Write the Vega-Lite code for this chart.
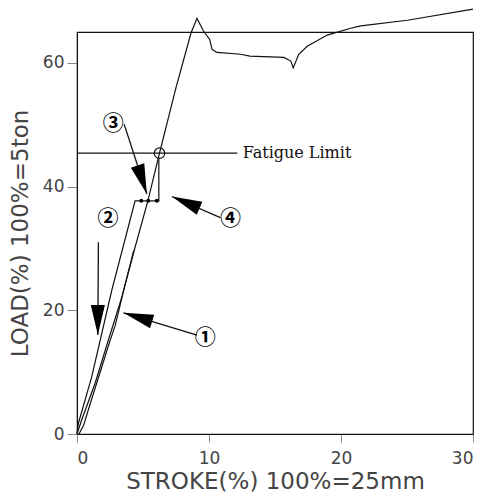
{
  "$schema": "https://vega.github.io/schema/vega-lite/v6.json",
  "autosize": "none",
  "padding": {"left": 77, "top": 32, "right": 10, "bottom": 70},
  "width": 396,
  "height": 402,
  "background": "white",
  "config": {
    "view": {"stroke": "#111", "strokeWidth": 1.2},
    "axis": {
      "grid": false,
      "domainColor": "#111",
      "labelColor": "#444",
      "titleColor": "#444",
      "labelFont": "DejaVu Sans",
      "titleFont": "DejaVu Sans",
      "titleFontWeight": "normal",
      "labelFontSize": 17,
      "titleFontSize": 23
    }
  },
  "datasets": {
    "curves": [
      {"s": "a", "o": 0, "x": 0, "y": 0},
      {"s": "a", "o": 1, "x": 0.1, "y": 1.7},
      {"s": "a", "o": 2, "x": 1.11, "y": 9.2},
      {"s": "a", "o": 3, "x": 2.63, "y": 23.2},
      {"s": "a", "o": 4, "x": 4.4, "y": 37.7},
      {"s": "a", "o": 5, "x": 6.2, "y": 37.7},
      {"s": "a", "o": 6, "x": 6.2, "y": 44.6},
      {"s": "b", "o": 0, "x": 0, "y": 0},
      {"s": "b", "o": 1, "x": 0.36, "y": 2.3},
      {"s": "b", "o": 2, "x": 1.37, "y": 8.2},
      {"s": "b", "o": 3, "x": 2.38, "y": 15.2},
      {"s": "b", "o": 4, "x": 3.39, "y": 22.1},
      {"s": "b", "o": 5, "x": 4.4, "y": 30.2},
      {"s": "b", "o": 6, "x": 5.37, "y": 37.7},
      {"s": "b", "o": 7, "x": 6.25, "y": 45.4},
      {"s": "b", "o": 8, "x": 7.5, "y": 56.0},
      {"s": "b", "o": 9, "x": 8.63, "y": 64.8},
      {"s": "b", "o": 10, "x": 9.09, "y": 67.2},
      {"s": "b", "o": 11, "x": 9.57, "y": 65.2},
      {"s": "b", "o": 12, "x": 10.05, "y": 63.8},
      {"s": "b", "o": 13, "x": 10.23, "y": 62.2},
      {"s": "b", "o": 14, "x": 10.6, "y": 61.7},
      {"s": "b", "o": 15, "x": 12.4, "y": 61.4},
      {"s": "b", "o": 16, "x": 13.1, "y": 61.1},
      {"s": "b", "o": 17, "x": 15.67, "y": 60.9},
      {"s": "b", "o": 18, "x": 16.2, "y": 60.3},
      {"s": "b", "o": 19, "x": 16.38, "y": 59.2},
      {"s": "b", "o": 20, "x": 16.8, "y": 61.4},
      {"s": "b", "o": 21, "x": 17.44, "y": 62.7},
      {"s": "b", "o": 22, "x": 18.96, "y": 64.5},
      {"s": "b", "o": 23, "x": 20.73, "y": 65.6},
      {"s": "b", "o": 24, "x": 21.5, "y": 66.0},
      {"s": "b", "o": 25, "x": 25.03, "y": 66.9},
      {"s": "b", "o": 26, "x": 30, "y": 68.7},
      {"s": "c", "o": 0, "x": 0.15, "y": 0},
      {"s": "c", "o": 1, "x": 0.5, "y": 1.4},
      {"s": "c", "o": 2, "x": 0.9, "y": 4.2},
      {"s": "c", "o": 3, "x": 1.4, "y": 7.6},
      {"s": "c", "o": 4, "x": 1.9, "y": 11.0},
      {"s": "c", "o": 5, "x": 2.4, "y": 14.4},
      {"s": "c", "o": 6, "x": 2.9, "y": 17.6},
      {"s": "c", "o": 7, "x": 3.6, "y": 23.8},
      {"s": "c", "o": 8, "x": 4.3, "y": 29.7}
    ],
    "arrows": [
      {"id": "1", "x": 9.09, "y": 16.0, "x2": 3.52, "y2": 19.6},
      {"id": "2", "x": 1.62, "y": 31.0, "x2": 1.58, "y2": 16.0},
      {"id": "3", "x": 3.57, "y": 50.1, "x2": 5.29, "y2": 38.8},
      {"id": "4", "x": 10.86, "y": 35.0, "x2": 7.19, "y2": 38.4}
    ],
    "fatigue": [{"x": 0, "x2": 12.15, "y": 45.4}],
    "dots": [
      {"x": 4.87, "y": 37.7},
      {"x": 5.4, "y": 37.7},
      {"x": 6.05, "y": 37.7}
    ],
    "labels": [
      {"x": 9.72, "y": 15.6, "t": "①"},
      {"x": 2.35, "y": 34.8, "t": "②"},
      {"x": 2.74, "y": 50.1, "t": "③"},
      {"x": 11.62, "y": 34.8, "t": "④"}
    ],
    "notes": [{"x": 12.55, "y": 45.4, "t": "Fatigue   Limit"}]
  },
  "encoding": {
    "x": {
      "field": "x", "type": "quantitative",
      "scale": {"domain": [0, 30], "nice": false, "zero": false},
      "axis": {
        "values": [0, 10, 20, 30],
        "tickSize": 8, "labelPadding": 8,
        "title": "STROKE(%)  100%=25mm",
        "titlePadding": 4
      }
    },
    "y": {
      "field": "y", "type": "quantitative",
      "scale": {"domain": [0, 65], "nice": false, "zero": false},
      "axis": {
        "values": [0, 20, 40, 60],
        "tickSize": 10,
        "labelPadding": 3,
        "title": "LOAD(%)  100%=5ton",
        "titlePadding": 10
      }
    }
  },
  "layer": [
    {
      "data": {"name": "curves"},
      "mark": {"type": "line", "color": "#111", "strokeWidth": 1.2},
      "encoding": {"detail": {"field": "s"}, "order": {"field": "o", "type": "quantitative"}}
    },
    {
      "data": {"name": "fatigue"},
      "mark": {"type": "rule", "color": "#111", "strokeWidth": 1.2},
      "encoding": {"x2": {"field": "x2"}}
    },
    {
      "data": {"name": "arrows"},
      "mark": {"type": "rule", "color": "#111", "strokeWidth": 1.3},
      "encoding": {"x2": {"field": "x2"}, "y2": {"field": "y2"}}
    },
    {
      "data": {"name": "arrows"},
      "transform": [{"filter": "datum.id === '1'"}],
      "mark": {"type": "point", "shape": "M0,0L0.47,2L-0.47,2Z", "size": 900, "filled": true, "color": "#000", "opacity": 1, "angle": 287},
      "encoding": {"x": {"field": "x2", "type": "quantitative"}, "y": {"field": "y2", "type": "quantitative"}}
    },
    {
      "data": {"name": "arrows"},
      "transform": [{"filter": "datum.id === '2'"}],
      "mark": {"type": "point", "shape": "M0,0L0.47,2L-0.47,2Z", "size": 900, "filled": true, "color": "#000", "opacity": 1, "angle": 180},
      "encoding": {"x": {"field": "x2", "type": "quantitative"}, "y": {"field": "y2", "type": "quantitative"}}
    },
    {
      "data": {"name": "arrows"},
      "transform": [{"filter": "datum.id === '3'"}],
      "mark": {"type": "point", "shape": "M0,0L0.47,2L-0.47,2Z", "size": 900, "filled": true, "color": "#000", "opacity": 1, "angle": 162},
      "encoding": {"x": {"field": "x2", "type": "quantitative"}, "y": {"field": "y2", "type": "quantitative"}}
    },
    {
      "data": {"name": "arrows"},
      "transform": [{"filter": "datum.id === '4'"}],
      "mark": {"type": "point", "shape": "M0,0L0.47,2L-0.47,2Z", "size": 900, "filled": true, "color": "#000", "opacity": 1, "angle": 293},
      "encoding": {"x": {"field": "x2", "type": "quantitative"}, "y": {"field": "y2", "type": "quantitative"}}
    },
    {
      "data": {"values": [{"x": 6.25, "y": 45.4}]},
      "mark": {"type": "point", "shape": "circle", "size": 110, "filled": false, "color": "#111", "strokeWidth": 1.2, "opacity": 1}
    },
    {
      "data": {"name": "dots"},
      "mark": {"type": "point", "shape": "circle", "size": 16, "filled": true, "color": "#000", "opacity": 1}
    },
    {
      "data": {"name": "labels"},
      "mark": {"type": "text", "font": "Noto Sans CJK JP", "fontSize": 21, "fontWeight": "bold", "color": "#000", "align": "center", "baseline": "middle"},
      "encoding": {"text": {"field": "t"}}
    },
    {
      "data": {"name": "notes"},
      "mark": {"type": "text", "font": "DejaVu Serif", "fontSize": 16, "color": "#111", "align": "left", "baseline": "middle"},
      "encoding": {"text": {"field": "t"}}
    }
  ]
}
